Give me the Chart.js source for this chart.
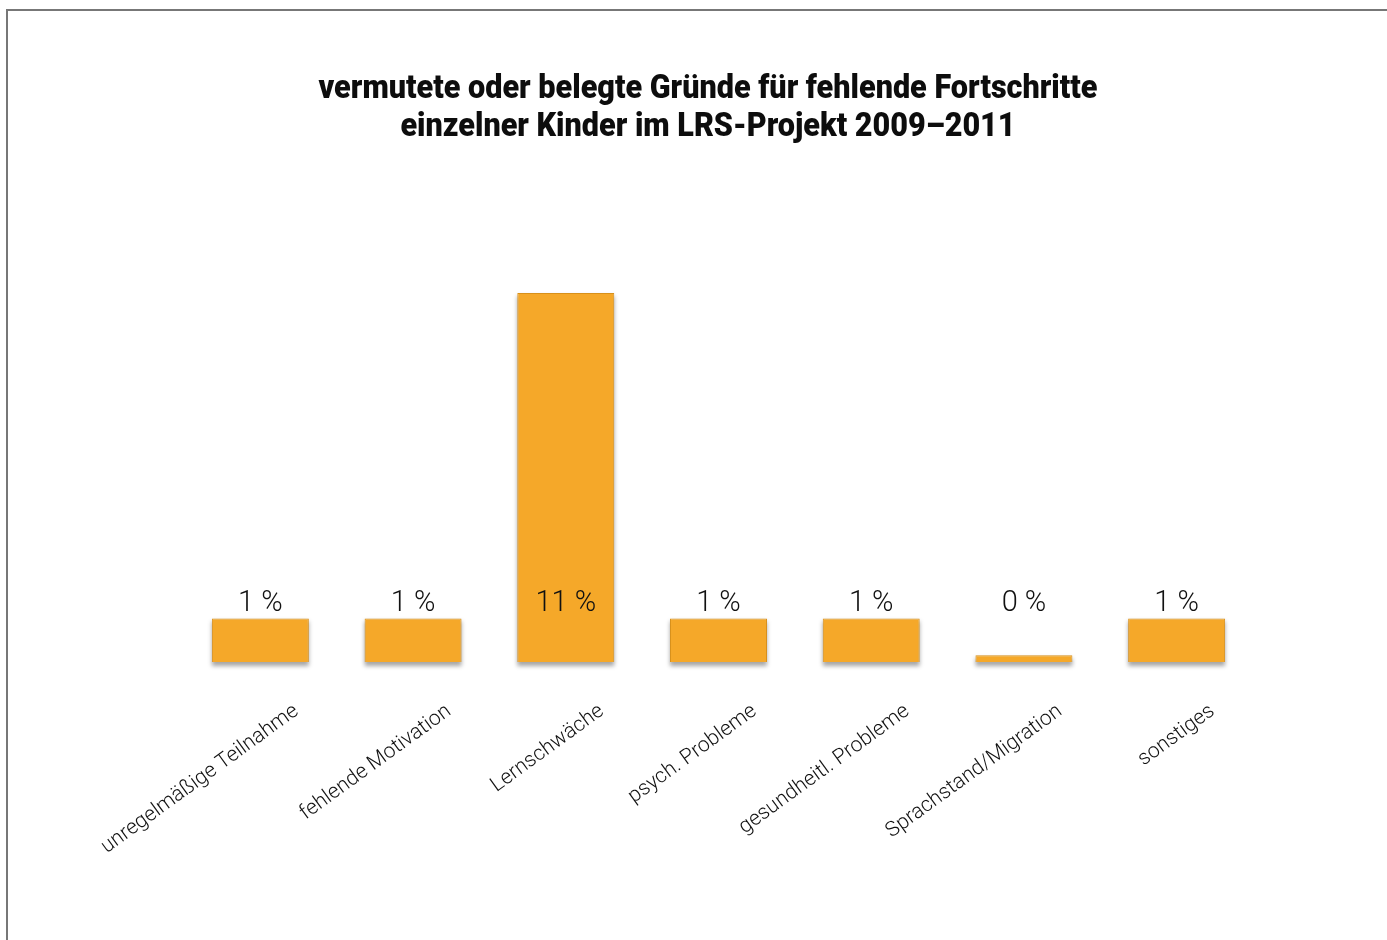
<!DOCTYPE html>
<html>
<head>
<meta charset="utf-8">
<script src="https://cdn.jsdelivr.net/npm/chart.js@4"></script>
<style>
  html, body { margin: 0; padding: 0; background: #fff; }
  #frame {
    position: absolute; left: 6px; top: 9px; right: 0; bottom: 0;
    border-left: 2px solid #777; border-top: 2px solid #777;
  }
  #wrap { position: absolute; left: 0; top: 0; width: 1387px; height: 940px; }
</style>
</head>
<body>
<div id="frame"></div>
<div id="wrap"><canvas id="grund" width="1387" height="940"></canvas></div>
<script>
const categories = [
  'unregelmäßige Teilnahme',
  'fehlende Motivation',
  'Lernschwäche',
  'psych. Probleme',
  'gesundheitl. Probleme',
  'Sprachstand/Migration',
  'sonstiges'
]
// anteile in prozent (gerundet angezeigt)
const anteile = [1.3, 1.3, 11, 1.3, 1.3, 0.2, 1.3]
const titleLines = [
  'vermutete oder belegte Gründe für fehlende Fortschritte',
  'einzelner Kinder im LRS-Projekt 2009–2011'
]

// schmale fette schrift gibt es nicht, also horizontal stauchen
const condensedTitle = {
  id: 'condensedTitle',
  afterDraw(chart) {
    const ctx = chart.ctx
    const cx = 708
    ctx.save()
    ctx.font = '900 33px Roboto, "Liberation Sans", sans-serif'
    ctx.fillStyle = '#0d0d0d'
    ctx.textAlign = 'center'
    ctx.textBaseline = 'alphabetic'
    const sx = 779 / ctx.measureText(titleLines[0]).width
    titleLines.forEach(function(line, i) {
      ctx.save()
      ctx.translate(cx, 98 + i * 38)
      ctx.scale(sx, 1)
      ctx.fillText(line, 0, 0)
      ctx.restore()
    })
    ctx.restore()
  }
}

// weicher schatten unter den balken
const barShadow = {
  id: 'barShadow',
  beforeDatasetsDraw(chart) {
    const ctx = chart.ctx
    const meta = chart.getDatasetMeta(0)
    ctx.save()
    ctx.filter = 'blur(2px)'
    ctx.fillStyle = 'rgba(0,0,0,0.35)'
    meta.data.forEach(function(bar) {
      const w = bar.width
      ctx.fillRect(bar.x - w / 2, bar.y + 3, w, bar.base - bar.y + 1)
    })
    ctx.restore()
  }
}

const valueLabels = {
  id: 'valueLabels',
  afterDatasetsDraw(chart) {
    const ctx = chart.ctx
    const meta = chart.getDatasetMeta(0)
    const y = chart.scales.y.getPixelForValue(1.74)
    ctx.save()
    ctx.font = '300 29px Roboto, "Liberation Sans", sans-serif'
    ctx.fillStyle = '#111'
    ctx.textAlign = 'center'
    ctx.textBaseline = 'middle'
    meta.data.forEach(function(bar, i) {
      ctx.fillText(Math.round(anteile[i]) + ' %', bar.x, y)
    })
    ctx.restore()
  }
}

new Chart(document.getElementById('grund').getContext('2d'), {
  type: 'bar',
  data: {
    labels: categories,
    datasets: [
      {
        data: anteile,
        backgroundColor: '#f5a829',
        borderColor: '#d8901a',
        borderWidth: 1,
        clip: false,
        categoryPercentage: 1,
        barPercentage: 0.635
      }
    ]
  },
  options: {
    responsive: false,
    animation: false,
    devicePixelRatio: 1,
    layout: { padding: { left: 184, right: 134, top: 293, bottom: 0 } },
    plugins: {
      legend: { display: false },
      tooltip: { enabled: false },
      title: { display: false }
    },
    scales: {
      x: {
        grid: { display: false, drawTicks: false },
        border: { display: false },
        ticks: {
          minRotation: 36,
          maxRotation: 36,
          padding: 37,
          labelOffset: 36,
          color: '#111',
          font: { family: 'Roboto, "Liberation Sans", sans-serif', size: 21, weight: '300' }
        },
        afterFit(scale) { scale.height = 278 }
      },
      y: {
        display: false,
        min: 0,
        max: 11
      }
    }
  },
  plugins: [barShadow, valueLabels, condensedTitle]
})
</script>
</body>
</html>
